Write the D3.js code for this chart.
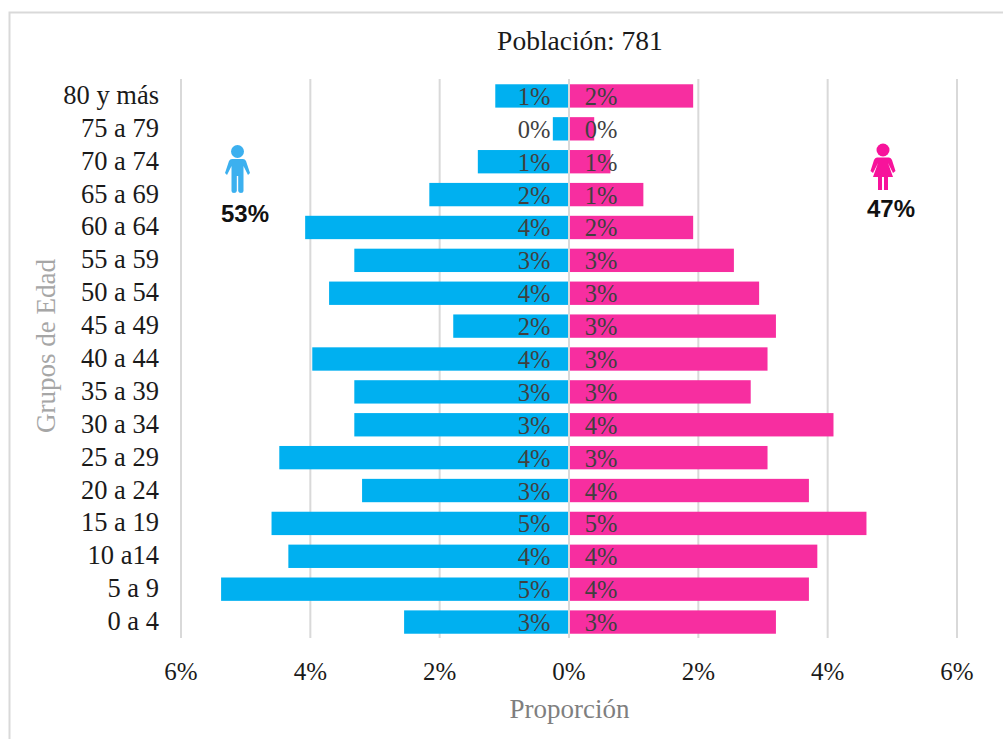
<!DOCTYPE html>
<html><head><meta charset="utf-8">
<script src="https://cdn.jsdelivr.net/npm/d3@7/dist/d3.min.js"></script>
<style>html,body{margin:0;padding:0;background:#fff}svg{display:block}text{font-family:"Liberation Serif",serif}</style>
</head><body><svg id="c" width="1003" height="739"></svg>
<script>
const categories=["80 y más","75 a 79","70 a 74","65 a 69","60 a 64","55 a 59","50 a 54","45 a 49","40 a 44","35 a 39","30 a 34","25 a 29","20 a 24","15 a 19","10 a14","5 a 9","0 a 4"];
const male=[1.14,0.25,1.41,2.16,4.08,3.32,3.71,1.79,3.97,3.32,3.32,4.48,3.2,4.6,4.34,5.38,2.55];
const female=[1.92,0.39,0.64,1.15,1.92,2.55,2.94,3.2,3.07,2.81,4.09,3.07,3.71,4.6,3.84,3.71,3.2];
const maleLabels=["1%","0%","1%","2%","4%","3%","4%","2%","4%","3%","3%","4%","3%","5%","4%","5%","3%"];
const femaleLabels=["2%","0%","1%","1%","2%","3%","3%","3%","3%","3%","4%","3%","4%","5%","4%","4%","3%"];
const ticks=[-6,-4,-2,0,2,4,6];
const svg=d3.select("#c");
const x=d3.scaleLinear().domain([-6,6]).range([181,957]);
const y=d3.scaleBand().domain(categories).range([79.5,638.5]).paddingInner(0.29).paddingOuter(0.145);
const cy=c=>y(c)+y.bandwidth()/2;
svg.append("path").attr("d","M9.5,739V12.5H1003").attr("fill","none").attr("stroke","#d9d9d9").attr("stroke-width",2);
svg.append("g").selectAll("line").data(ticks).join("line")
 .attr("x1",d=>x(d)).attr("x2",d=>x(d)).attr("y1",79).attr("y2",638)
 .attr("stroke","#d9d9d9").attr("stroke-width",2);
const mc="#00b0f0",fc="#f72ea0";
svg.append("g").selectAll("rect").data(male).join("rect")
 .attr("x",d=>x(-d)).attr("width",d=>x(0)-1-x(-d)).attr("y",(d,i)=>y(categories[i])).attr("height",y.bandwidth()).attr("fill",mc);
svg.append("g").selectAll("rect").data(female).join("rect")
 .attr("x",x(0)+1).attr("width",d=>x(d)-x(0)-1).attr("y",(d,i)=>y(categories[i])).attr("height",y.bandwidth()).attr("fill",fc);
const lab=(arr,px)=>svg.append("g").selectAll("text").data(arr).join("text")
 .attr("x",px).attr("y",(d,i)=>cy(categories[i])+9).attr("text-anchor","middle")
 .attr("font-size",24.5).attr("fill","#404040").text(d=>d);
lab(maleLabels,534);lab(femaleLabels,601);
svg.append("g").selectAll("text").data(categories).join("text")
 .attr("x",159).attr("y",c=>cy(c)+8).attr("text-anchor","end").attr("font-size",26.5).attr("fill","#1a1a1a").text(c=>c);
svg.append("g").selectAll("text").data(ticks).join("text")
 .attr("x",d=>x(d)).attr("y",680).attr("text-anchor","middle").attr("font-size",25).attr("fill","#1a1a1a").text(d=>Math.abs(d)+"%");
svg.append("text").attr("x",580).attr("y",50).attr("text-anchor","middle").attr("font-size",27.5).attr("fill","#1a1a1a").text("Población: 781");
svg.append("text").attr("x",569.5).attr("y",718).attr("text-anchor","middle").attr("font-size",27).attr("fill","#7f7f7f").text("Proporción");
svg.append("text").attr("transform","translate(55,346) rotate(-90)").attr("text-anchor","middle").attr("font-size",27).attr("fill","#a6a6a6").text("Grupos de Edad");
const man=svg.append("g").attr("fill","#3cb0ef");
man.append("circle").attr("cx",237.5).attr("cy",151.5).attr("r",6.5);
man.append("path").attr("d","M232,159H243Q245,159 246,161L250,173L248,175L243.5,166V191Q243.5,193 241,193Q238.5,193 238.2,191V176H236.8V191Q236.5,193 234,193Q231.5,193 231.5,191V166L227,175L225,173L229,161Q230,159 232,159Z");
const wom=svg.append("g").attr("fill","#f7139b");
wom.append("circle").attr("cx",883).attr("cy",150).attr("r",6.5);
wom.append("path").attr("d","M877,157.5H889Q891,157.5 892,160L895.5,171L893,173L888,163L893,177H888V190H884V177H882V190H878V177H873L878,163L873,173L870.5,171L874,160Q875,157.5 877,157.5Z");
svg.append("text").attr("x",245).attr("y",222).attr("text-anchor","middle").attr("font-size",24).attr("font-weight","bold").attr("style","font-family:'Liberation Sans',sans-serif").attr("fill","#111").text("53%");
svg.append("text").attr("x",891).attr("y",217).attr("text-anchor","middle").attr("font-size",24).attr("font-weight","bold").attr("style","font-family:'Liberation Sans',sans-serif").attr("fill","#111").text("47%");
</script></body></html>
